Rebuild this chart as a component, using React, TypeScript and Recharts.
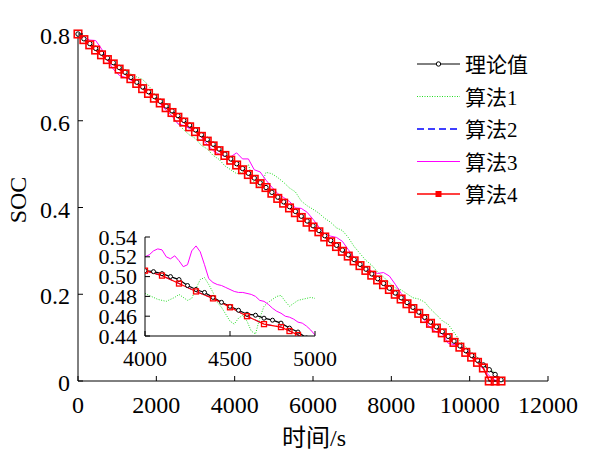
import React from 'react';
import { LineChart, Line, XAxis, YAxis } from 'recharts';

const FONT = '"Liberation Serif", "Times New Roman", Times, "Noto Sans CJK SC", serif';

// main plot: time grid (s) and SOC of each series
const mainTime = [
  0, 150, 300, 450, 600, 750, 900, 1050, 1200, 1350,
  1500, 1650, 1800, 1950, 2100, 2250, 2400, 2550, 2700, 2850,
  3000, 3150, 3300, 3450, 3600, 3750, 3900, 4050, 4200, 4350,
  4500, 4650, 4800, 4950, 5100, 5250, 5400, 5550, 5700, 5850,
  6000, 6150, 6300, 6450, 6600, 6750, 6900, 7050, 7200, 7350,
  7500, 7650, 7800, 7950, 8100, 8250, 8400, 8550, 8700, 8850,
  9000, 9150, 9300, 9450, 9600, 9750, 9900, 10050, 10200, 10350,
  10500, 10650, 10800,
];

const theoryMain = [
  0.800, 0.789, 0.778, 0.767, 0.756, 0.745, 0.734, 0.723, 0.712, 0.700,
  0.689, 0.678, 0.667, 0.656, 0.645, 0.634, 0.623, 0.612, 0.601, 0.590,
  0.579, 0.568, 0.557, 0.546, 0.535, 0.523, 0.512, 0.501, 0.490, 0.479,
  0.468, 0.457, 0.446, 0.435, 0.424, 0.413, 0.402, 0.391, 0.380, 0.369,
  0.358, 0.347, 0.335, 0.324, 0.313, 0.302, 0.291, 0.280, 0.269, 0.258,
  0.247, 0.236, 0.225, 0.214, 0.203, 0.192, 0.181, 0.170, 0.159, 0.147,
  0.136, 0.125, 0.114, 0.103, 0.092, 0.081, 0.070, 0.059, 0.048, 0.037,
  0.026, 0.015, 0.003,
];

const algo1Main = [
  0.800, 0.791, 0.778, 0.770, 0.758, 0.745, 0.732, 0.726, 0.717, 0.708,
  0.701, 0.695, 0.682, 0.661, 0.645, 0.629, 0.611, 0.594, 0.579, 0.567,
  0.559, 0.543, 0.535, 0.520, 0.511, 0.496, 0.487, 0.478, 0.481, 0.499,
  0.456, 0.445, 0.481, 0.478, 0.469, 0.458, 0.445, 0.436, 0.415, 0.404,
  0.396, 0.387, 0.375, 0.366, 0.353, 0.347, 0.331, 0.310, 0.294, 0.278,
  0.267, 0.251, 0.240, 0.226, 0.215, 0.210, 0.201, 0.192, 0.189, 0.182,
  0.166, 0.153, 0.139, 0.131, 0.112, 0.093, 0.078, 0.067, 0.054, 0.041,
  0.031, 0.019, 0.002,
];

const algo2Main = [
  0.800, 0.787, 0.775, 0.763, 0.752, 0.741, 0.731, 0.719, 0.708, 0.697,
  0.686, 0.674, 0.663, 0.652, 0.641, 0.630, 0.619, 0.608, 0.597, 0.586,
  0.575, 0.564, 0.553, 0.542, 0.531, 0.520, 0.509, 0.498, 0.487, 0.476,
  0.465, 0.455, 0.446, 0.433, 0.421, 0.410, 0.399, 0.388, 0.377, 0.366,
  0.355, 0.344, 0.332, 0.321, 0.310, 0.299, 0.288, 0.277, 0.266, 0.255,
  0.244, 0.233, 0.222, 0.211, 0.200, 0.189, 0.178, 0.167, 0.156, 0.144,
  0.133, 0.122, 0.111, 0.100, 0.089, 0.078, 0.066, 0.055, 0.043, 0.030,
  0, 0, 0,
];

const algo3Main = [
  0.800, 0.792, 0.786, 0.785, 0.766, 0.740, 0.719, 0.705, 0.700, 0.694,
  0.686, 0.678, 0.669, 0.653, 0.639, 0.624, 0.611, 0.593, 0.589, 0.582,
  0.575, 0.562, 0.545, 0.531, 0.523, 0.518, 0.517, 0.526, 0.512, 0.512,
  0.487, 0.482, 0.463, 0.447, 0.432, 0.423, 0.414, 0.399, 0.398, 0.389,
  0.373, 0.355, 0.339, 0.334, 0.331, 0.322, 0.303, 0.285, 0.269, 0.260,
  0.253, 0.248, 0.250, 0.242, 0.223, 0.202, 0.185, 0.170, 0.156, 0.139,
  0.122, 0.113, 0.109, 0.087, 0.084, 0.081, 0.074, 0.063, 0.044, 0.027,
  0.012, 0.002, 0.000,
];

const algo4Main = [
  0.800, 0.787, 0.775, 0.763, 0.752, 0.741, 0.731, 0.719, 0.708, 0.697,
  0.686, 0.674, 0.663, 0.652, 0.641, 0.630, 0.619, 0.608, 0.597, 0.586,
  0.575, 0.564, 0.553, 0.542, 0.531, 0.520, 0.509, 0.498, 0.487, 0.476,
  0.465, 0.455, 0.446, 0.433, 0.421, 0.410, 0.399, 0.388, 0.377, 0.366,
  0.355, 0.344, 0.332, 0.321, 0.310, 0.299, 0.288, 0.277, 0.266, 0.255,
  0.244, 0.233, 0.222, 0.211, 0.200, 0.189, 0.178, 0.167, 0.156, 0.144,
  0.133, 0.122, 0.111, 0.100, 0.089, 0.078, 0.066, 0.055, 0.043, 0.030,
  0, 0, 0,
];

// inset (zoom on 4000-5000 s)
const insetTheoryTime = [
  4000, 4050, 4100, 4150, 4200, 4250, 4300, 4350, 4400, 4450,
  4500, 4550, 4600, 4650, 4700, 4750, 4800, 4850, 4900, 4950,
];
const insetTheory = [
  0.506, 0.505, 0.503, 0.500, 0.497, 0.491, 0.487, 0.484, 0.479, 0.474,
  0.470, 0.466, 0.462, 0.461, 0.458, 0.456, 0.453, 0.448, 0.444, 0.438,
];

const insetAlgoTime = [4000, 4100, 4200, 4300, 4400, 4500, 4600, 4700, 4800, 4850, 4900, 4950];
const insetAlgo2 = [0.506, 0.501, 0.493, 0.485, 0.478, 0.469, 0.460, 0.452, 0.449, 0.445, 0.441, 0.435];
const insetAlgo4 = [0.506, 0.501, 0.493, 0.485, 0.478, 0.469, 0.460, 0.452, 0.449, 0.445, 0.441, 0.435];

const insetFineTime = [
  4000, 4025, 4050, 4075, 4100, 4125, 4150, 4175, 4200, 4225,
  4250, 4275, 4300, 4325, 4350, 4375, 4400, 4425, 4450, 4475,
  4500, 4525, 4550, 4575, 4600, 4625, 4650, 4675, 4700, 4725,
  4750, 4775, 4800, 4825, 4850, 4875, 4900, 4925, 4950, 4975,
  5000,
];
const insetAlgo1 = [
  0.483, 0.481, 0.479, 0.477, 0.476, 0.475, 0.477, 0.479, 0.482, 0.479,
  0.476, 0.478, 0.488, 0.497, 0.499, 0.492, 0.484, 0.474, 0.469, 0.462,
  0.455, 0.452, 0.458, 0.461, 0.455, 0.445, 0.442, 0.458, 0.470, 0.474,
  0.477, 0.480, 0.481, 0.475, 0.470, 0.473, 0.476, 0.477, 0.478, 0.479,
  0.478,
];
const insetAlgo3 = [
  0.520, 0.522, 0.526, 0.528, 0.527, 0.520, 0.518, 0.521, 0.516, 0.510,
  0.512, 0.526, 0.531, 0.525, 0.512, 0.498, 0.494, 0.492, 0.491, 0.489,
  0.487, 0.485, 0.484, 0.484, 0.483, 0.482, 0.480, 0.476, 0.475, 0.472,
  0.468, 0.465, 0.463, 0.460, 0.459, 0.457, 0.454, 0.453, 0.450, 0.446,
  0.441,
];

const mainXTicks = [0, 2000, 4000, 6000, 8000, 10000, 12000];
const mainYTicks = [0, 0.2, 0.4, 0.6, 0.8];
const insetXTicks = [4000, 4500, 5000];
const insetYTicks = [0.44, 0.46, 0.48, 0.5, 0.52, 0.54];

const legendNames = ['理论值', '算法1', '算法2', '算法3', '算法4'];

const mainRows = mainTime.map((t, i) => ({
  t,
  theory: theoryMain[i],
  algo1: algo1Main[i],
  algo2: algo2Main[i],
  algo3: algo3Main[i],
  algo4: algo4Main[i],
}));

const toPoints = (times: number[], values: number[]) => times.map((t, i) => ({ t, v: values[i] }));

const GREEN = '#22dd22';
const BLUE = '#0000ff';
const MAGENTA = '#ff00ff';
const RED = '#ff0000';

const textStyle = { fontFamily: FONT };

const squareDot = (size: number, sw: number) => (props: any) => {
  const { cx, cy, index } = props;
  if (cx == null || cy == null) return <g key={`sq-${index}`} />;
  return (
    <rect
      key={`sq-${index}`}
      x={cx - size / 2}
      y={cy - size / 2}
      width={size}
      height={size}
      fill="none"
      stroke={RED}
      strokeWidth={sw}
    />
  );
};

const XTick = (props: any) => {
  const { x, y, payload, fmt, fs = 24, dy = 32 } = props;
  return (
    <g>
      <line x1={x} y1={y} x2={x} y2={y - 5} stroke="#000" />
      <text x={x} y={y + dy} textAnchor="middle" fontSize={fs} style={textStyle} fill="#000">
        {fmt ? fmt(payload.value) : payload.value}
      </text>
    </g>
  );
};

const YTick = (props: any) => {
  const { x, y, payload, fmt, dy, fs = 24 } = props;
  return (
    <g>
      <line x1={x} y1={y} x2={x + 5} y2={y} stroke="#000" />
      <text x={x - 8} y={y + dy} textAnchor="end" fontSize={fs} style={textStyle} fill="#000">
        {fmt ? fmt(payload.value) : payload.value}
      </text>
    </g>
  );
};

const fmt2 = (v: number) => v.toFixed(2);

const Legend = () => {
  const rows = [64, 96.5, 129, 161.5, 194];
  const x1 = 417;
  const x2 = 460;
  const xm = (x1 + x2) / 2;
  return (
    <g>
      {legendNames.map((name, i) => {
        const y = rows[i];
        let line: React.ReactNode = null;
        if (i === 0) {
          line = (
            <g>
              <line x1={x1} y1={y} x2={x2} y2={y} stroke="#000" />
              <circle cx={xm} cy={y} r={2.2} fill="#fff" stroke="#000" />
            </g>
          );
        } else if (i === 1) {
          line = <line x1={x1} y1={y} x2={x2} y2={y} stroke={GREEN} strokeDasharray="1 1.5" />;
        } else if (i === 2) {
          line = <line x1={x1} y1={y} x2={x2} y2={y} stroke={BLUE} strokeWidth={1.3} strokeDasharray="7 4" />;
        } else if (i === 3) {
          line = <line x1={x1} y1={y} x2={x2} y2={y} stroke={MAGENTA} />;
        } else {
          line = (
            <g>
              <line x1={x1} y1={y} x2={x2} y2={y} stroke={RED} strokeWidth={1.6} />
              <rect x={xm - 2.5} y={y - 2.5} width={5} height={5} fill={RED} stroke={RED} />
            </g>
          );
        }
        return (
          <g key={name}>
            {line}
            <text x={465} y={y + 8} fontSize={21} style={textStyle} fill="#000">
              {name}
            </text>
          </g>
        );
      })}
    </g>
  );
};

const App: React.FC = () => {
  return (
    <div style={{ position: 'absolute', left: 0, top: 0, width: 606, height: 455, background: '#fff', fontFamily: FONT }}>
      <div style={{ position: 'absolute', left: 0, top: 0 }}>
        <LineChart width={606} height={455} data={mainRows} margin={{ top: 34, right: 58, bottom: 44, left: 0 }}>
          <XAxis
            type="number"
            dataKey="t"
            domain={[0, 12000]}
            ticks={mainXTicks}
            interval={0}
            height={30}
            tickSize={0}
            tickMargin={0}
            tickLine={false}
            axisLine={{ stroke: '#000' }}
            tick={(p: any) => <XTick {...p} />}
          />
          <YAxis
            type="number"
            domain={[0, 0.8]}
            ticks={mainYTicks}
            interval={0}
            width={78}
            tickSize={0}
            tickMargin={0}
            tickLine={false}
            axisLine={{ stroke: '#000' }}
            tick={(p: any) => <YTick {...p} dy={10} />}
          />
          <Line dataKey="algo1" stroke={GREEN} strokeWidth={1} strokeDasharray="1 1.5" dot={false} isAnimationActive={false} />
          <Line dataKey="algo2" stroke={BLUE} strokeWidth={1} strokeDasharray="7 4" dot={false} isAnimationActive={false} />
          <Line dataKey="algo3" stroke={MAGENTA} strokeWidth={1} dot={false} isAnimationActive={false} />
          <Line
            dataKey="theory"
            stroke="#000"
            strokeWidth={1.2}
            dot={{ r: 2.2, stroke: '#000', strokeWidth: 1, fill: '#fff' }}
            isAnimationActive={false}
          />
          <Line dataKey="algo4" stroke={RED} strokeWidth={1.6} dot={squareDot(7.5, 1.6)} isAnimationActive={false} />
        </LineChart>
      </div>

      <div style={{ position: 'absolute', left: 85, top: 217 }}>
        <LineChart width={270} height={170} margin={{ top: 20, right: 40, bottom: 21, left: 0 }}>
          <XAxis
            type="number"
            dataKey="t"
            domain={[4000, 5000]}
            ticks={insetXTicks}
            interval={0}
            height={30}
            tickSize={0}
            tickMargin={0}
            tickLine={false}
            allowDataOverflow
            axisLine={{ stroke: '#000' }}
            tick={(p: any) => <XTick {...p} fs={22} dy={30} />}
          />
          <YAxis
            type="number"
            dataKey="v"
            domain={[0.44, 0.54]}
            ticks={insetYTicks}
            interval={0}
            width={60}
            tickSize={0}
            tickMargin={0}
            tickLine={false}
            allowDataOverflow
            axisLine={{ stroke: '#000' }}
            tick={(p: any) => <YTick {...p} dy={7.5} fs={22} fmt={fmt2} />}
          />
          <Line data={toPoints(insetFineTime, insetAlgo1)} dataKey="v" stroke={GREEN} strokeWidth={1} strokeDasharray="1 1.5" dot={false} isAnimationActive={false} />
          <Line data={toPoints(insetAlgoTime, insetAlgo2)} dataKey="v" stroke={BLUE} strokeWidth={1} strokeDasharray="7 4" dot={false} isAnimationActive={false} />
          <Line data={toPoints(insetFineTime, insetAlgo3)} dataKey="v" stroke={MAGENTA} strokeWidth={1} dot={false} isAnimationActive={false} />
          <Line
            data={toPoints(insetTheoryTime, insetTheory)}
            dataKey="v"
            stroke="#000"
            strokeWidth={1.2}
            dot={{ r: 2, stroke: '#000', strokeWidth: 1, fill: '#fff' }}
            isAnimationActive={false}
          />
          <Line data={toPoints(insetAlgoTime, insetAlgo4)} dataKey="v" stroke={RED} strokeWidth={1.2} dot={squareDot(5, 1.3)} isAnimationActive={false} />
        </LineChart>
      </div>

      <svg width={606} height={455} style={{ position: 'absolute', left: 0, top: 0, pointerEvents: 'none' }}>
        <Legend />
        <text
          x={18}
          y={200}
          transform="rotate(-90 18 200)"
          textAnchor="middle"
          dominantBaseline="central"
          fontSize={24}
          style={textStyle}
          fill="#000"
        >
          SOC
        </text>
        <text x={314} y={438} textAnchor="middle" dominantBaseline="central" fontSize={24} style={textStyle} fill="#000">
          时间/s
        </text>
      </svg>
    </div>
  );
};

export default App;
